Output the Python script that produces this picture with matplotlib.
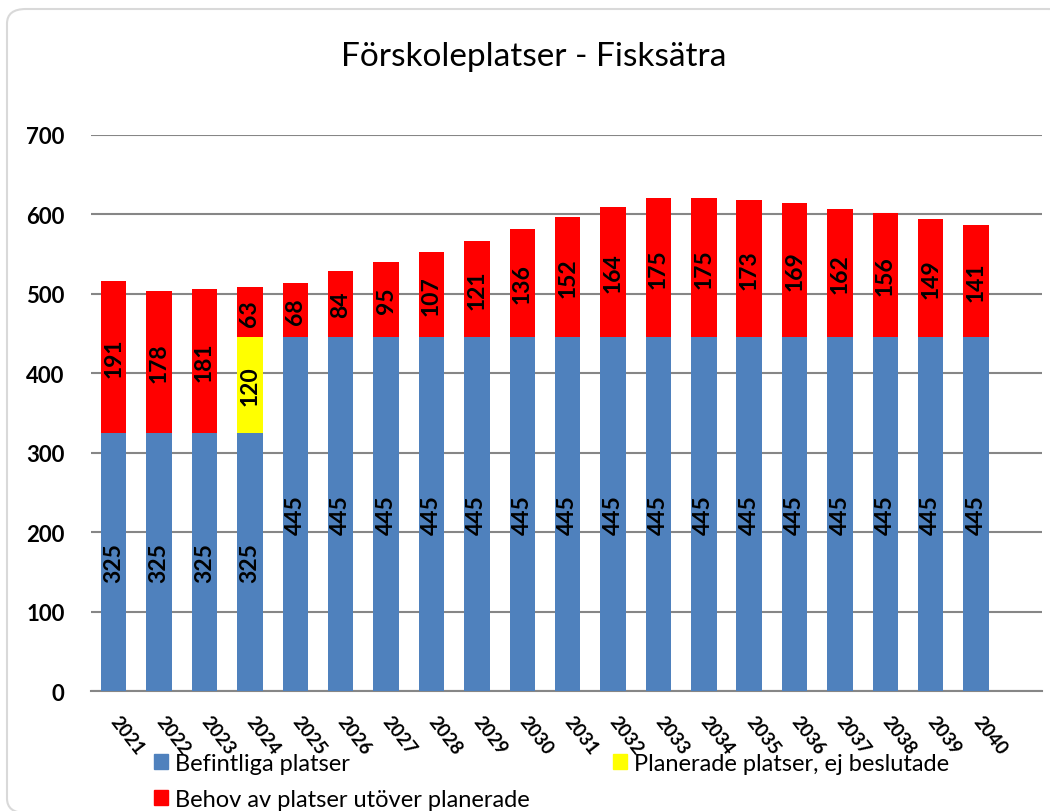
import matplotlib
matplotlib.use("Agg")
import matplotlib.pyplot as plt
from matplotlib.patches import Patch, FancyBboxPatch
import numpy as np

plt.rcParams['font.family'] = ['Lato', 'DejaVu Sans']

# data
years = [str(y) for y in range(2021, 2041)]
befintliga = [325, 325, 325, 325] + [445] * 16
planerade = [0, 0, 0, 120] + [0] * 16
behov = [191, 178, 181, 63, 68, 84, 95, 107, 121, 136,
         152, 164, 175, 175, 173, 169, 162, 156, 149, 141]

c_blue = '#4f81bd'
c_yellow = '#ffff00'
c_red = '#ff0000'

fig = plt.figure(figsize=(10.5, 8.12), dpi=100)

# rounded frame round the chart
frame = FancyBboxPatch((7 / 1050, -2 / 812), 1060 / 1050, 804 / 812,
                       boxstyle="round,pad=0,rounding_size=0.018",
                       transform=fig.transFigure, facecolor='white',
                       edgecolor='#d9d9d9', linewidth=1.5, zorder=-1,
                       clip_on=False)
fig.patches.append(frame)

ax = fig.add_axes([91 / 1050, 1 - 692.3 / 812, (1042 - 91) / 1050, (692.3 - 135.7) / 812])
ax.set_facecolor('none')

x = np.arange(len(years))
w = 0.56
b1 = ax.bar(x, befintliga, w, color=c_blue, zorder=3)
b2 = ax.bar(x, planerade, w, bottom=befintliga, color=c_yellow, zorder=3)
bottom2 = np.array(befintliga) + np.array(planerade)
b3 = ax.bar(x, behov, w, bottom=bottom2, color=c_red, zorder=3)

for cont, vals in [(b1, befintliga), (b2, planerade), (b3, behov)]:
    labels = [str(v) if v else '' for v in vals]
    ax.bar_label(cont, labels=labels, label_type='center', rotation=90,
                 fontsize=16.5, fontweight='bold', color='black', zorder=4)

ax.set_xlim(-0.5, 20.45)
ax.set_ylim(0, 700)
ax.set_yticks(range(0, 701, 100))
ax.yaxis.grid(True, color='#868686', linewidth=1.5, zorder=0)
ax.set_axisbelow(True)
for s in ['top', 'right', 'left']:
    ax.spines[s].set_visible(False)
ax.spines['bottom'].set_color('#868686')
ax.spines['bottom'].set_linewidth(1.5)
ax.tick_params(axis='both', length=0)
ax.tick_params(axis='y', pad=19, labelsize=16)
for t in ax.get_yticklabels():
    t.set_fontweight('bold')

ax.set_xticks(x)
ax.set_xticklabels(years, rotation=-52, ha='left', va='center',
                   rotation_mode='anchor', fontsize=13.5, fontweight='bold')
ax.tick_params(axis='x', pad=19)

fig.text(0.508, 1 - 57 / 812, 'Förskoleplatser - Fisksätra',
         ha='center', va='center', fontsize=24)

handles = [Patch(color=c_blue), Patch(color=c_red), Patch(color=c_yellow)]
names = ['Befintliga platser', 'Behov av platser utöver planerade',
         'Planerade platser, ej beslutade']
fig.legend(handles, names, ncol=2, loc='upper left',
           bbox_to_anchor=(154 / 1050, 1 - 754 / 812), frameon=False,
           fontsize=17, handlelength=0.6, handleheight=0.6,
           handletextpad=0.3, columnspacing=3.5, labelspacing=0.62,
           borderpad=0, borderaxespad=0)

fig.savefig('out.png', dpi=100)
